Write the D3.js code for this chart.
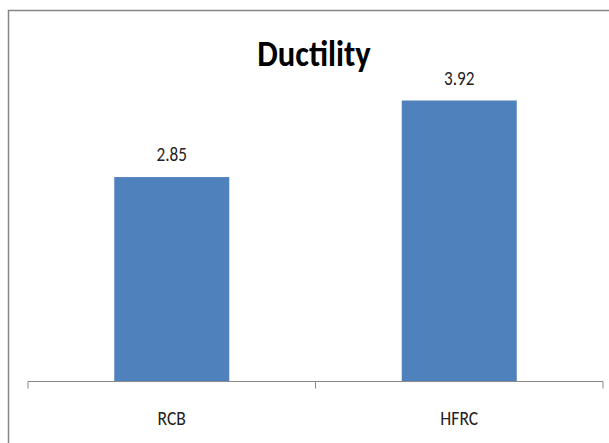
<!DOCTYPE html>
<html>
<head>
<meta charset="utf-8">
<script src="https://cdn.jsdelivr.net/npm/d3@7"></script>
<style>
  html, body { margin: 0; padding: 0; background: #fff; }
  svg { display: block; }
</style>
</head>
<body>
<svg id="chart" width="609" height="443"></svg>
<script>
// Ductility values per beam type
const categories = ["RCB", "HFRC"];
const ductility = [2.85, 3.92];
const chartTitle = "Ductility";

const font = "Carlito, 'Open Sans', sans-serif";
const narrow = 0.88; // horizontal squeeze for a condensed look
const svg = d3.select("#chart");

// chart area frame (runs off the right and bottom edges)
svg.append("rect")
  .attr("x", 8.5).attr("y", 10.5)
  .attr("width", 640).attr("height", 480)
  .attr("fill", "#fff")
  .attr("stroke", "#868686")
  .attr("stroke-width", 1.5);

const x = d3.scaleBand()
  .domain(categories)
  .range([28, 603])
  .paddingInner(0.6)
  .paddingOuter(0.3);

const y = d3.scaleLinear()
  .domain([0, 4.5])
  .range([381, 59]);

// bars
svg.selectAll("rect.bar")
  .data(ductility)
  .join("rect")
  .attr("class", "bar")
  .attr("x", (d, i) => x(categories[i]))
  .attr("width", x.bandwidth())
  .attr("y", d => y(d))
  .attr("height", d => y(0) - y(d))
  .attr("fill", "#4f81bd");

// value labels
svg.selectAll("g.val")
  .data(ductility)
  .join("g")
  .attr("class", "val")
  .attr("transform", (d, i) =>
    `translate(${x(categories[i]) + x.bandwidth() / 2},${y(d) - 16}) scale(${narrow},1)`)
  .append("text")
  .attr("text-anchor", "middle")
  .attr("font-family", font)
  .attr("font-size", 19.5)
  .attr("fill", "#222")
  .text(d => d.toFixed(2));

// category axis with ticks between categories
const axisG = svg.append("g").attr("transform", "translate(0,381.5)");
axisG.append("line")
  .attr("x1", 28).attr("x2", 603)
  .attr("stroke", "#888").attr("stroke-width", 1);
const boundaries = [28, (x(categories[0]) + x.bandwidth() + x(categories[1])) / 2, 603];
axisG.selectAll("line.tick")
  .data(boundaries)
  .join("line")
  .attr("class", "tick")
  .attr("x1", d => d).attr("x2", d => d)
  .attr("y1", 0).attr("y2", 7)
  .attr("stroke", "#888");
axisG.selectAll("g.cat")
  .data(categories)
  .join("g")
  .attr("class", "cat")
  .attr("transform", d => `translate(${x(d) + x.bandwidth() / 2},43.5) scale(${narrow},1)`)
  .append("text")
  .attr("text-anchor", "middle")
  .attr("font-family", font)
  .attr("font-size", 20)
  .attr("fill", "#222")
  .text(d => d);

// title
svg.append("g")
  .attr("transform", `translate(314,66) scale(${narrow},1)`)
  .append("text")
  .attr("text-anchor", "middle")
  .attr("font-family", font)
  .attr("font-weight", "bold")
  .attr("font-size", 37)
  .attr("fill", "#000")
  .text(chartTitle);
</script>
</body>
</html>
